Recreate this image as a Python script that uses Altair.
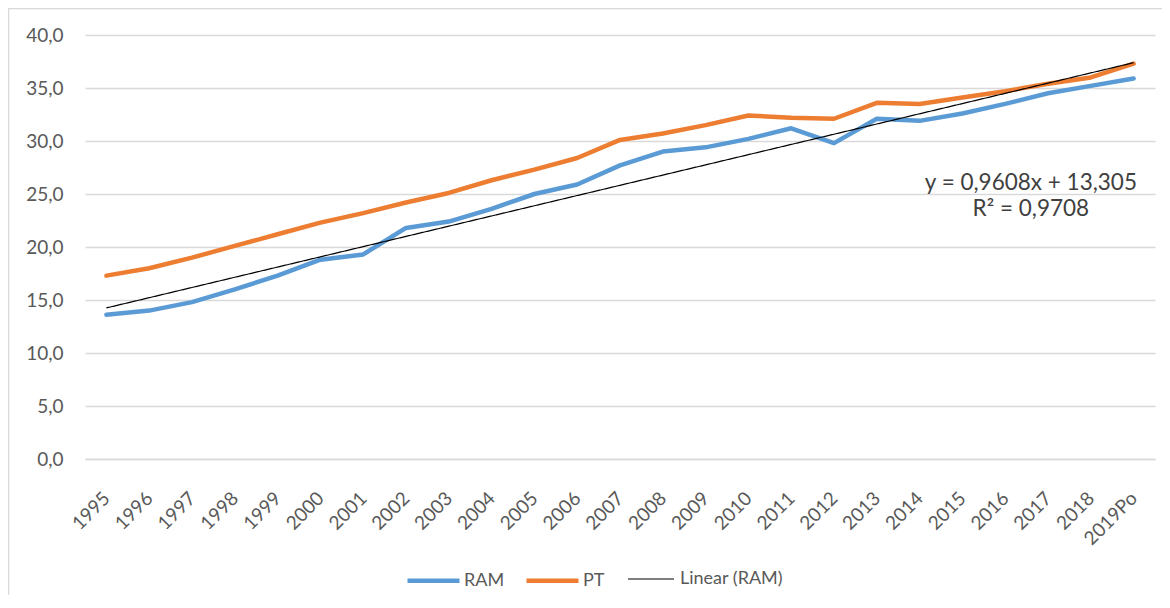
import altair as alt
import pandas as pd

years = ["1995", "1996", "1997", "1998", "1999", "2000", "2001", "2002", "2003",
         "2004", "2005", "2006", "2007", "2008", "2009", "2010", "2011", "2012",
         "2013", "2014", "2015", "2016", "2017", "2018", "2019Po"]
ram = [13.6, 14.0, 14.8, 16.0, 17.3, 18.8, 19.3, 21.8, 22.4, 23.6, 25.0, 25.9, 27.7,
       29.0, 29.4, 30.2, 31.2, 29.8, 32.1, 31.9, 32.6, 33.5, 34.5, 35.2, 35.9]
pt = [17.3, 18.0, 19.0, 20.1, 21.2, 22.3, 23.2, 24.2, 25.1, 26.3, 27.3, 28.4, 30.1,
      30.7, 31.5, 32.4, 32.2, 32.1, 33.6, 33.5, 34.1, 34.7, 35.4, 36.0, 37.3]
series_names = ["RAM", "PT"]
series_colors = ["#5B9BD5", "#ED7D31"]
trend_name = ["Linear (RAM)"]
eq_text = ["y = 0,9608x + 13,305", "R² = 0,9708"]
eq_pos_x = [22.6, 22.6]
eq_pos_y = [26.0, 23.6]
y_ticks = [0, 5, 10, 15, 20, 25, 30, 35, 40]

rows = []
for i, (yr, r, p) in enumerate(zip(years, ram, pt)):
    rows.append({"idx": i + 1, "year": yr, "series": "RAM", "value": r})
    rows.append({"idx": i + 1, "year": yr, "series": "PT", "value": p})
df = pd.DataFrame(rows)
eq_df = pd.DataFrame({"idx": eq_pos_x, "value": eq_pos_y, "text": eq_text})

FONT = "Lato"
TXT = "#595959"
label_expr = "[" + ",".join("'%s'" % y for y in years) + "][datum.value - 1]"

color = alt.Color(
    "series:N",
    scale=alt.Scale(domain=series_names, range=series_colors),
    legend=alt.Legend(
        title=None, orient="none", legendX=320, legendY=517,
        direction="horizontal", symbolType="stroke", symbolSize=2704,
        symbolStrokeWidth=4.5,
        labelFontSize=18, labelFont=FONT, labelColor=TXT,
        columnPadding=12, labelOffset=2))

dash = alt.StrokeDash(
    "trend:N",
    scale=alt.Scale(domain=trend_name, range=[[1, 0]]),
    legend=alt.Legend(
        title=None, orient="none", legendX=542, legendY=520,
        direction="horizontal", symbolType="stroke", symbolSize=2116,
        symbolStrokeWidth=1.2, symbolStrokeColor="#000000",
        labelFontSize=18, labelFont=FONT, labelColor=TXT, labelOffset=5))

x = alt.X("idx:Q",
          scale=alt.Scale(domain=[0.5, 25.5], nice=False, zero=False),
          axis=alt.Axis(values=list(range(1, 26)), labelExpr=label_expr,
                        labelAngle=-45, labelAlign="right", labelBaseline="middle",
                        labelPadding=36, ticks=False, tickSize=0, grid=False,
                        domain=True, domainColor="#D9D9D9", domainWidth=1.3,
                        title=None, labelFont=FONT, labelFontSize=19,
                        labelColor=TXT, labelOverlap=False),
          title=None)
y = alt.Y("value:Q",
          scale=alt.Scale(domain=[0, 40], nice=False),
          axis=alt.Axis(values=y_ticks,
                        labelExpr="replace(format(datum.value, '.1f'), '.', ',')",
                        ticks=False, tickSize=0, domain=False, grid=True,
                        gridColor="#D9D9D9", gridWidth=1.3, labelPadding=22,
                        title=None, labelFont=FONT, labelFontSize=19,
                        labelColor=TXT),
          title=None)

lines = alt.Chart(df).mark_line(strokeCap="round", strokeJoin="round",
                                strokeWidth=4.5).encode(x=x, y=y, color=color)

trend = (alt.Chart(df)
         .transform_filter("datum.series === 'RAM'")
         .transform_regression("idx", "value")
         .transform_calculate(trend="'Linear (RAM)'")
         .mark_line(strokeWidth=1.2, color="#000000")
         .encode(x=x, y=y, strokeDash=dash))

eq = alt.Chart(eq_df).mark_text(font=FONT, fontSize=22.5, color="#404040",
                                align="center", baseline="middle").encode(
    x=alt.X("idx:Q"), y=alt.Y("value:Q"), text="text:N")

frame_df = pd.DataFrame({"k": [0]})
frame_left = alt.Chart(frame_df).mark_rule(color="#D9D9D9", strokeWidth=1.5).encode(
    x=alt.value(-76.5), y=alt.value(-27), y2=alt.value(565))
frame_top = alt.Chart(frame_df).mark_rule(color="#D9D9D9", strokeWidth=1.5).encode(
    x=alt.value(-77), x2=alt.value(1077), y=alt.value(-26.5))

chart = (alt.layer(frame_left, frame_top, lines, trend, eq)
         .properties(width=1070, height=424,
                     autosize=alt.AutoSizeParams(type="none"),
                     padding={"left": 77, "top": 27, "right": 7, "bottom": 136},
                     background="white")
         .configure_view(stroke=None))

chart.save("out.html", embed_options={"renderer": "svg", "actions": False})
